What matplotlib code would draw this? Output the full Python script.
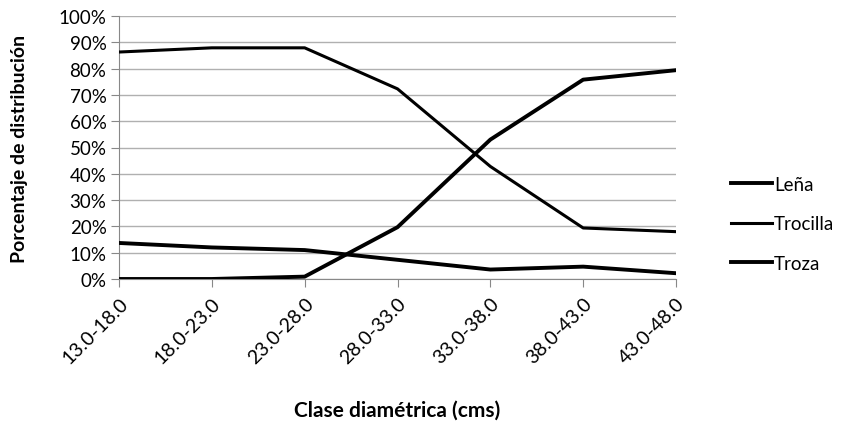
import matplotlib
matplotlib.use("Agg")
import matplotlib.pyplot as plt
from matplotlib.ticker import PercentFormatter

# clases diametricas
clases = ["13.0-18.0", "18.0-23.0", "23.0-28.0", "28.0-33.0",
          "33.0-38.0", "38.0-43.0", "43.0-48.0"]

# porcentaje de distribucion por producto
lena = [13.7, 12.0, 11.0, 7.3, 3.6, 4.7, 2.2]
trocilla = [86.3, 87.9, 87.9, 72.3, 42.8, 19.4, 18.0]
troza = [0.0, 0.0, 0.9, 19.7, 53.0, 75.8, 79.4]

plt.rcParams['font.family'] = ['Lato', 'DejaVu Sans']

fig = plt.figure(figsize=(8.49, 4.27), dpi=100)
ax = fig.add_axes([119 / 849, 1 - 280 / 427, (676 - 119) / 849, (280 - 17) / 427])

x = list(range(len(clases)))
ax.plot(x, lena, color="black", lw=2.8, label="Leña", zorder=3)
ax.plot(x, trocilla, color="black", lw=2.2, label="Trocilla", zorder=3)
ax.plot(x, troza, color="black", lw=2.8, label="Troza", zorder=3)

ax.set_xlim(0, len(clases) - 1)
ax.set_ylim(0, 100)
ax.set_yticks(range(0, 101, 10))
ax.yaxis.set_major_formatter(PercentFormatter(decimals=0))
ax.set_xticks(x)
ax.set_xticklabels(clases, rotation=45, ha="right", rotation_mode="anchor", fontsize=14)
ax.tick_params(axis="y", labelsize=13.5, length=6, color="#888888", pad=3)
ax.tick_params(axis="x", length=6, color="#888888", pad=5)

ax.grid(axis="y", color="#b0b0b0", lw=1)
ax.set_axisbelow(True)
for s in ["top", "right"]:
    ax.spines[s].set_visible(False)
ax.spines["left"].set_color("#888888")
ax.spines["bottom"].set_color("#888888")

ax.set_ylabel("Porcentaje de distribución", fontsize=14, fontweight="bold")
ax.yaxis.set_label_coords(-91 / 557, 0.5)
fig.text(397 / 849, 1 - 411 / 427, "Clase diamétrica (cms)", fontsize=15,
         fontweight="bold", ha="center", va="center")

ax.legend(loc="center left", bbox_to_anchor=(714 / 849, 1 - 225 / 427),
          bbox_transform=fig.transFigure, frameon=False, fontsize=13.5,
          handlelength=2.2, handletextpad=0.1, labelspacing=1.2)

fig.savefig("out.png", dpi=100)
